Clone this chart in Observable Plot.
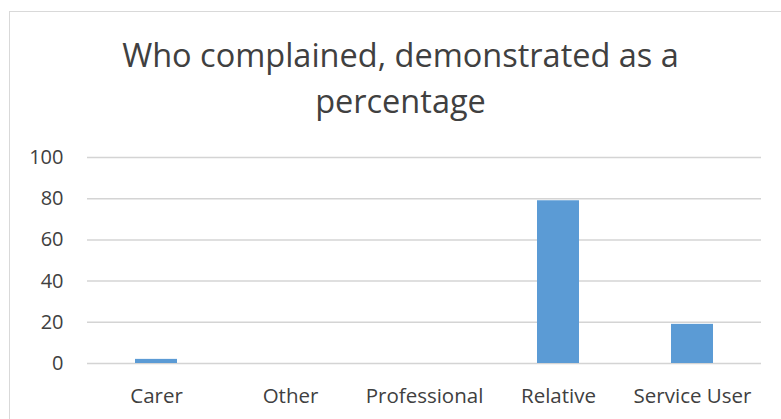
<!DOCTYPE html>
<html>
<head>
<meta charset="utf-8">
<script src="https://cdn.jsdelivr.net/npm/d3@7"></script>
<script src="https://cdn.jsdelivr.net/npm/@observablehq/plot@0.6"></script>
<style>
  html, body { margin: 0; padding: 0; background: #fff; }
  #wrap { position: relative; width: 781px; height: 419px; overflow: hidden; font-family: "Open Sans", sans-serif; }
  #frame { position: absolute; left: 9px; top: 11px; width: 800px; height: 500px; border-left: 1.5px solid #d9d9d9; border-top: 1.5px solid #d9d9d9; box-sizing: border-box; }
  #title { position: absolute; left: 0; width: 801px; top: 32px; text-align: center; font-size: 32.5px; line-height: 46px; color: #404040; white-space: nowrap; }
  #chart { position: absolute; left: 0; top: 0; }
</style>
</head>
<body>
<div id="wrap">
  <div id="frame"></div>
  <div id="chart"></div>
  <div id="title">Who complained, demonstrated as a<br>percentage</div>
</div>
<script>
const categories = ["Carer", "Other", "Professional", "Relative", "Service User"];
const values = [2, 0, 0, 79, 19];
const yTicks = [0, 20, 40, 60, 80, 100];

const data = categories.map((c, i) => ({category: c, value: values[i]}));

const chart = Plot.plot({
  width: 781,
  height: 419,
  marginLeft: 87,
  marginRight: 20,
  marginTop: 157,
  marginBottom: 56,
  style: {fontFamily: "Open Sans, sans-serif", fontSize: "20px", color: "#404040", background: "transparent"},
  x: {domain: categories, paddingInner: 0.69, paddingOuter: 0.345, label: null, tickSize: 0, tickPadding: 25},
  y: {domain: [0, 100], ticks: yTicks, label: null, tickSize: 0, tickPadding: 24},
  marks: [
    Plot.gridY(yTicks, {stroke: "#d4d4d4", strokeOpacity: 1, strokeWidth: 1.5}),
    Plot.barY(data, {x: "category", y: "value", fill: "#5b9bd5"}),
    Plot.axisX({tickSize: 0, tickPadding: 25, fill: "#404040", fontSize: 20.5}),
    Plot.axisY({ticks: yTicks, tickSize: 0, tickPadding: 24, fill: "#404040", fontSize: 20})
  ]
});
document.getElementById("chart").appendChild(chart);
</script>
</body>
</html>
